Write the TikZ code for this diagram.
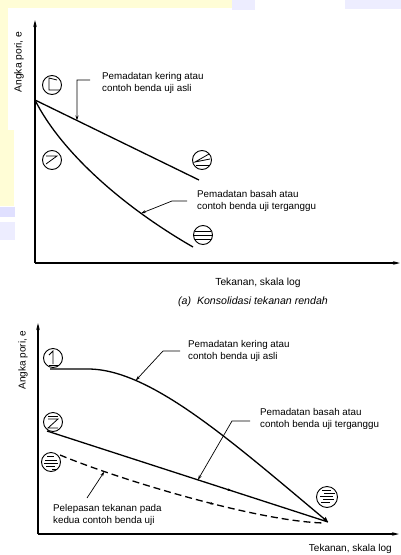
\documentclass[tikz,border=0pt]{standalone}
\usepackage{fontspec}
\setmainfont{Liberation Sans}
\usetikzlibrary{arrows.meta,decorations.markings}
\begin{document}
\begin{tikzpicture}[x=1pt,y=-1pt,
  axis/.style={line width=1.4pt,-{Stealth[length=7pt,width=3.5pt]}},
  curve/.style={line width=1.3pt},
  lead/.style={line width=0.7pt,-{Stealth[length=5pt,width=3pt]}},
  sym/.style={circle,draw,line width=0.9pt,minimum size=19pt,inner sep=0pt},
  symline/.style={line width=0.8pt},
  lbl/.style={font=\fontsize{9.8}{12}\selectfont,align=left,inner sep=0pt},
  midarrow/.style={postaction={decorate,decoration={markings,
     mark=at position #1 with {\arrow{Stealth[length=4pt,width=2.6pt]}}}}},
]
\useasboundingbox (0,0) rectangle (401,555);
\fill[white] (0,0) rectangle (401,555);
% faint scan tint
\fill[yellow!16] (0,0) rectangle (235,8);
\fill[yellow!16] (0,0) rectangle (8,130);
\fill[yellow!16] (0,130) rectangle (14,206);
\fill[blue!12] (0,207) rectangle (15,217);
\fill[blue!7] (0,222) rectangle (15,240);
\fill[blue!7] (232,0) rectangle (255,10);
\fill[blue!7] (345,0) rectangle (401,9);

% ---------------- top plot ----------------
\coordinate (o1) at (35,263);
\coordinate (ya1) at (35,20);
\coordinate (xa1) at (400,263);
\draw[axis] (o1) -- (ya1);
\draw[axis] (o1) -- (xa1);
\node[lbl,font=\fontsize{10.3}{12}\selectfont,rotate=90] (yl1) at (19,62) {Angka pori, e};

\coordinate (s1) at (35,100);
\coordinate (e1) at (199,180);
\coordinate (e1b) at (193,247);
\draw[curve] (s1) -- coordinate[pos=0.256] (k1) (e1);
\draw[curve] (s1) .. controls (60,150) and (120,205) .. coordinate[pos=0.75] (b1) (e1b);

\node[sym] (t1) at (52,85) {};
\node[sym] (t2) at (202,160) {};
\node[sym] (tz) at (52,160) {};
\node[sym] (t3) at (203,235) {};
\begin{scope}[shift={(t1.center)}]
  \draw[symline] (5,-5) -- (-3,-7) -- (-3,5) -- (8,5);
\end{scope}
\begin{scope}[shift={(t2.center)}]
  \draw[symline] (7,-6) -- (-7,2) -- (8,-1);
  \draw[symline] (-6,5) -- (8,5);
\end{scope}
\begin{scope}[shift={(tz.center)}]
  \draw[symline] (-6,-4) -- (5,-4) -- (-6,4);
\end{scope}
\begin{scope}[shift={(t3.center)}]
  \draw[symline] (-8,-4) -- (8,-4);
  \draw[symline] (-9,0) -- (9,0);
  \draw[symline] (-8,4) -- (8,4);
\end{scope}

\node[lbl,anchor=west] (tk) at (102,83) {Pemadatan kering atau\\contoh benda uji asli};
\node[lbl,anchor=west] (tb) at (197,201) {Pemadatan basah atau\\contoh benda uji terganggu};
\coordinate (tkl) at (90,80);
\coordinate (tbl) at (187,201);
\draw[lead] (tkl) -- (77,80) -- (k1);
\draw[lead] (tbl) -- (172,201) -- (b1);

\node[lbl,font=\fontsize{10.3}{12}\selectfont] (tx1) at (258,283) {Tekanan, skala log};
\node[lbl,font=\fontsize{10.6}{12}\selectfont\itshape] (cap) at (253,302) {(a)\ \ Konsolidasi tekanan rendah};

% ---------------- bottom plot ----------------
\coordinate (o2) at (38,534);
\coordinate (ya2) at (38,323);
\coordinate (xa2) at (399,534);
\draw[axis] (o2) -- (ya2);
\draw[axis] (o2) -- (xa2);
\node[lbl,font=\fontsize{10}{12}\selectfont,rotate=90] (yl2) at (23,360) {Angka pori, e};

\node[sym] (d1) at (53,358) {};
\node[sym] (dz) at (53,422) {};
\node[sym] (d3) at (51,462) {};
\node[sym,minimum size=21pt] (d4) at (327,497) {};

\coordinate (s2a) at (50,369);
\coordinate (s2b) at (88,369);
\coordinate (ee) at (328,522);
\coordinate (s3) at (47,431);
\coordinate (s4) at (60,455);
\coordinate (e4) at (325,523);

\draw[curve,-{Triangle[length=5pt,width=4.5pt]}] (s2a) -- (s2b) .. controls (150,369) and (230,440) .. coordinate[pos=0.24] (k2) (ee);
\draw[curve,midarrow=0.657] (s3) -- coordinate[pos=0.537] (b2) (ee);
\draw[curve,dashed,dash pattern=on 7pt off 4pt,midarrow=0.59] (s4) .. controls (120,480) and (260,522) .. coordinate[pos=0.2] (r2) (e4);

\begin{scope}[shift={(d1.center)}]
  \draw[symline] (-4,-3) -- (0,-7) -- (0,6);
  \draw[symline] (-4,7) -- (6,7);
\end{scope}
\begin{scope}[shift={(dz.center)}]
  \draw[symline] (-5,-6) -- (5,-6);
  \draw[symline] (-5,-3) -- (5,-3) -- (-5,6) -- (5,6);
\end{scope}
\begin{scope}[shift={(d3.center)}]
  \draw[symline,line width=0.5pt] (-4,-6) -- (3,-6);
  \draw[symline,line width=0.5pt] (-6,-2) -- (6,-2);
  \draw[symline,line width=0.5pt] (-7,1) -- (7,1);
  \draw[symline,line width=0.5pt] (-5,4) -- (4,4);
  \draw[symline,line width=0.5pt] (1,7) -- (5,7);
\end{scope}
\begin{scope}[shift={(d4.center)}]
  \draw[symline,line width=0.5pt] (-5,-7) -- (4,-7);
  \draw[symline,line width=0.5pt] (-3,-4) -- (8,-4);
  \draw[symline,line width=0.5pt] (-7,-1) -- (6,-1);
  \draw[symline,line width=0.5pt] (-4,2) -- (7,2);
  \draw[symline,line width=0.5pt] (-6,5) -- (3,5);
\end{scope}

\node[lbl,anchor=west] (bk) at (188,351) {Pemadatan kering atau\\contoh benda uji asli};
\node[lbl,anchor=west] (bb) at (260,419) {Pemadatan basah atau\\contoh benda uji terganggu};
\node[lbl,anchor=west] (br) at (53,515) {Pelepasan tekanan pada\\kedua contoh benda uji};
\coordinate (bkl) at (180,351);
\coordinate (bbl) at (250,421);
\coordinate (brl) at (87,498);
\draw[lead] (bkl) -- (163,351) -- (k2);
\draw[lead] (bbl) -- (232,421) -- (b2);
\draw[lead] (brl) -- (r2);

\node[lbl,font=\fontsize{10}{12}\selectfont,anchor=east] (tx2) at (392,549) {Tekanan, skala log};
\end{tikzpicture}
\end{document}
